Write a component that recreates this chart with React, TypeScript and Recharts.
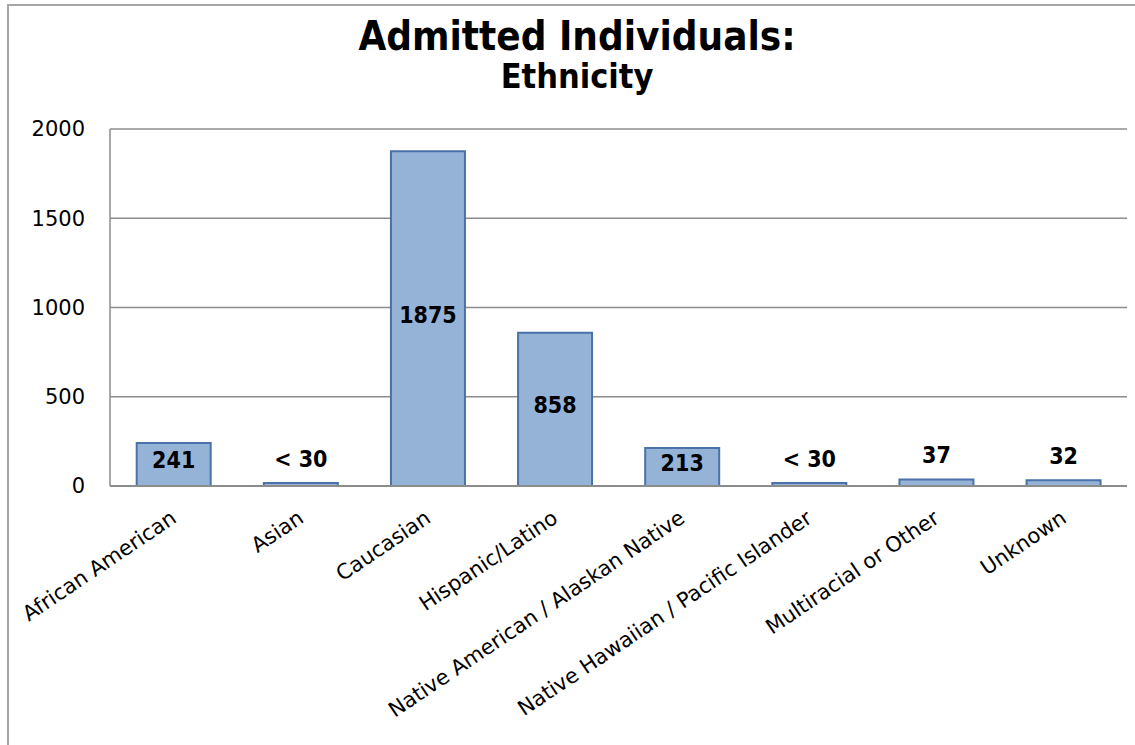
import React from 'react';
import { BarChart, Bar, XAxis, YAxis, CartesianGrid, LabelList } from 'recharts';

const categories = [
  'African American',
  'Asian',
  'Caucasian',
  'Hispanic/Latino',
  'Native American / Alaskan Native',
  'Native Hawaiian / Pacific Islander',
  'Multiracial or Other',
  'Unknown',
];
const counts = [241, 17, 1875, 858, 213, 17, 37, 32];
const labels = ['241', '< 30', '1875', '858', '213', '< 30', '37', '32'];
const yTicks = [0, 500, 1000, 1500, 2000];

const data = categories.map((name, i) => ({ name, value: counts[i], label: labels[i] }));

const FONT = "'DejaVu Sans Condensed', Tahoma, 'DejaVu Sans', sans-serif";
const TICK_FONT = "'DejaVu Sans', Tahoma, sans-serif";

function AngledTick({ x, y, payload }: any) {
  return (
    <g transform={`translate(${x + 2},${y + 24})`}>
      <text
        textAnchor="end"
        transform="rotate(-34)"
        fontFamily={TICK_FONT}
        fontSize={21}
        fill="#000"
        dy={4}
      >
        {payload.value}
      </text>
    </g>
  );
}

function ValueLabel(props: any) {
  const { x, y, width, height, index } = props;
  const v = counts[index];
  const cx = x + width / 2;
  const cy = v > 150 ? y + height / 2 - 4 : y - 24;
  return (
    <text
      x={cx}
      y={cy}
      textAnchor="middle"
      dominantBaseline="central"
      fontFamily={FONT}
      fontWeight="bold"
      fontSize={23}
      fill="#000"
    >
      {labels[index]}
    </text>
  );
}

export default function App() {
  return (
    <div style={{ position: 'fixed', left: 0, top: 0, width: 1135, height: 745, background: '#fff' }}>
      <div
        style={{
          position: 'absolute',
          left: 7,
          top: 4,
          width: 1140,
          height: 760,
          border: '2px solid #a6a6a6',
          boxSizing: 'border-box',
        }}
      />
      <div
        style={{
          position: 'absolute',
          left: 0,
          width: 1154,
          top: 14,
          textAlign: 'center',
          fontFamily: FONT,
          fontWeight: 'bold',
          color: '#000',
          lineHeight: 1.1,
        }}
      >
        <div style={{ fontSize: 40 }}>Admitted Individuals:</div>
        <div style={{ fontSize: 34 }}>Ethnicity</div>
      </div>
      <div style={{ position: 'absolute', left: 0, top: 0 }}>
        <BarChart
          width={1135}
          height={745}
          data={data}
          margin={{ top: 129, right: 8, left: 10, bottom: 9 }}
          barCategoryGap="21%"
        >
          <CartesianGrid vertical={false} stroke="#8c8c8c" strokeWidth={1.5} />
          <XAxis
            dataKey="name"
            interval={0}
            tickLine={false}
            axisLine={{ stroke: '#8c8c8c', strokeWidth: 2 }}
            height={250}
            tick={<AngledTick />}
          />
          <YAxis
            domain={[0, 2000]}
            ticks={yTicks}
            width={100}
            tickLine={false}
            axisLine={{ stroke: '#8c8c8c', strokeWidth: 1.5 }}
            tick={{ fill: '#000', fontSize: 21, fontFamily: TICK_FONT }}
            tickMargin={19}
          />
          <Bar dataKey="value" fill="#95b3d7" stroke="#4a72a8" strokeWidth={2} isAnimationActive={false}>
            <LabelList dataKey="label" content={<ValueLabel />} />
          </Bar>
        </BarChart>
      </div>
    </div>
  );
}
